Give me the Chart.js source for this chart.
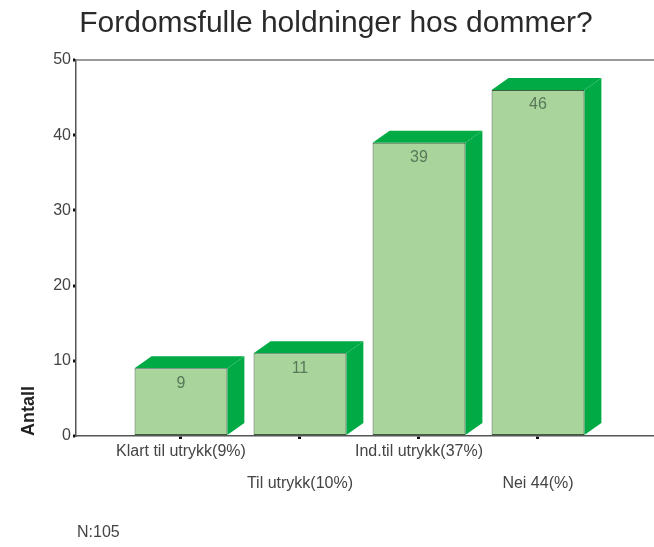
<!DOCTYPE html>
<html>
<head>
<meta charset="utf-8">
<title>Fordomsfulle holdninger hos dommer?</title>
<script src="https://cdn.jsdelivr.net/npm/chart.js@4"></script>
<style>
  html, body { margin: 0; padding: 0; background: #fff; }
  #wrap { width: 654px; height: 547px; }
</style>
</head>
<body>
<div id="wrap"><canvas id="chart" width="654" height="547"></canvas></div>
<script>
// Data.
const categories = ['Klart til utrykk(9%)', 'Til utrykk(10%)', 'Ind.til utrykk(37%)', 'Nei 44(%)'];
const counts = [9, 11, 39, 46];
const yTicks = [0, 10, 20, 30, 40, 50];
const sampleNote = 'N:105';

const FRONT = '#a9d59c';
const SIDE = '#00aa44';
const TEXT = '#444';

Chart.defaults.font.family = '"Liberation Sans", Arial, sans-serif';

// Side and top faces of the 3D bars, taken from the bar elements.
const depthPlugin = {
  id: 'depth',
  beforeDatasetsDraw(chart) {
    const { ctx } = chart;
    const dx = 17, dy = 12;
    ctx.save();
    ctx.fillStyle = SIDE;
    chart.getDatasetMeta(0).data.forEach((bar) => {
      const { x, y, base, width } = bar.getProps(['x', 'y', 'base', 'width'], true);
      const left = x - width / 2;
      const right = x + width / 2;
      ctx.beginPath();
      ctx.moveTo(right, base);
      ctx.lineTo(right, y);
      ctx.lineTo(right + dx, y - dy);
      ctx.lineTo(right + dx, base - dy);
      ctx.closePath();
      ctx.fill();
      ctx.beginPath();
      ctx.moveTo(left, y);
      ctx.lineTo(left + dx, y - dy);
      ctx.lineTo(right + dx, y - dy);
      ctx.lineTo(right, y);
      ctx.closePath();
      ctx.fill();
    });
    ctx.restore();
  },
  afterDatasetsDraw(chart) {
    const { ctx } = chart;
    ctx.save();
    ctx.font = '16px "Liberation Sans", Arial, sans-serif';
    ctx.fillStyle = '#587858';
    ctx.textAlign = 'center';
    ctx.textBaseline = 'middle';
    chart.getDatasetMeta(0).data.forEach((bar, i) => {
      ctx.fillText(String(counts[i]), bar.x, bar.y + 15);
    });
    ctx.restore();
  },
  afterDraw(chart) {
    const { ctx } = chart;
    ctx.save();
    ctx.font = '16px "Liberation Sans", Arial, sans-serif';
    ctx.fillStyle = TEXT;
    ctx.textAlign = 'left';
    ctx.textBaseline = 'middle';
    ctx.fillText(sampleNote, 77, 533);
    ctx.restore();
  }
};

new Chart(document.getElementById('chart'), {
  type: 'bar',
  data: {
    datasets: [{
      data: counts.map((v, i) => ({ x: i, y: v })),
      backgroundColor: FRONT,
      borderColor: '#3d5e3d',
      borderWidth: 1,
      borderSkipped: false,
      barPercentage: 0.78,
      categoryPercentage: 1
    }]
  },
  options: {
    responsive: false,
    animation: false,
    layout: { padding: { left: 18, right: 0, top: 0, bottom: 0 } },
    plugins: {
      legend: { display: false },
      tooltip: { enabled: false },
      title: {
        display: true,
        text: 'Fordomsfulle holdninger hos dommer?',
        color: '#2a2a2a',
        font: { size: 30, weight: 'normal' },
        padding: { top: 6, bottom: 18 }
      }
    },
    scales: {
      x: {
        type: 'linear',
        offset: false,
        min: -0.882,
        max: 3.975,
        afterBuildTicks: (axis) => {
          axis.ticks = categories.map((_, i) => ({ value: i }));
        },
        afterFit: (axis) => { axis.height = 111; },
        ticks: {
          autoSkip: false,
          maxRotation: 0,
          padding: 5,
          color: TEXT,
          font: { size: 16, lineHeight: '16px' },
          callback: (value) => (value % 2 ? ['', '', categories[value]] : [categories[value]])
        },
        grid: {
          offset: false,
          drawOnChartArea: false,
          tickLength: 3,
          tickWidth: 3,
          tickColor: '#111'
        },
        border: { display: true, color: '#555', width: 1.5 }
      },
      y: {
        min: 0,
        max: 50,
        afterBuildTicks: (axis) => {
          axis.ticks = yTicks.map((v) => ({ value: v }));
        },
        afterFit: (axis) => { axis.width = 58; },
        ticks: {
          padding: 2,
          color: TEXT,
          font: { size: 16 }
        },
        grid: {
          color: (c) => (c.tick && c.tick.value === 50 ? '#999' : 'rgba(0,0,0,0)'),
          lineWidth: 2,
          tickLength: 3,
          tickWidth: 3,
          tickColor: '#111'
        },
        border: { display: true, color: '#555', width: 1.5 },
        title: {
          display: true,
          text: 'Antall',
          align: 'start',
          color: '#222',
          font: { size: 18, weight: 'bold' },
          padding: { top: 0, bottom: 0 }
        }
      }
    }
  },
  plugins: [depthPlugin]
});
</script>
</body>
</html>
